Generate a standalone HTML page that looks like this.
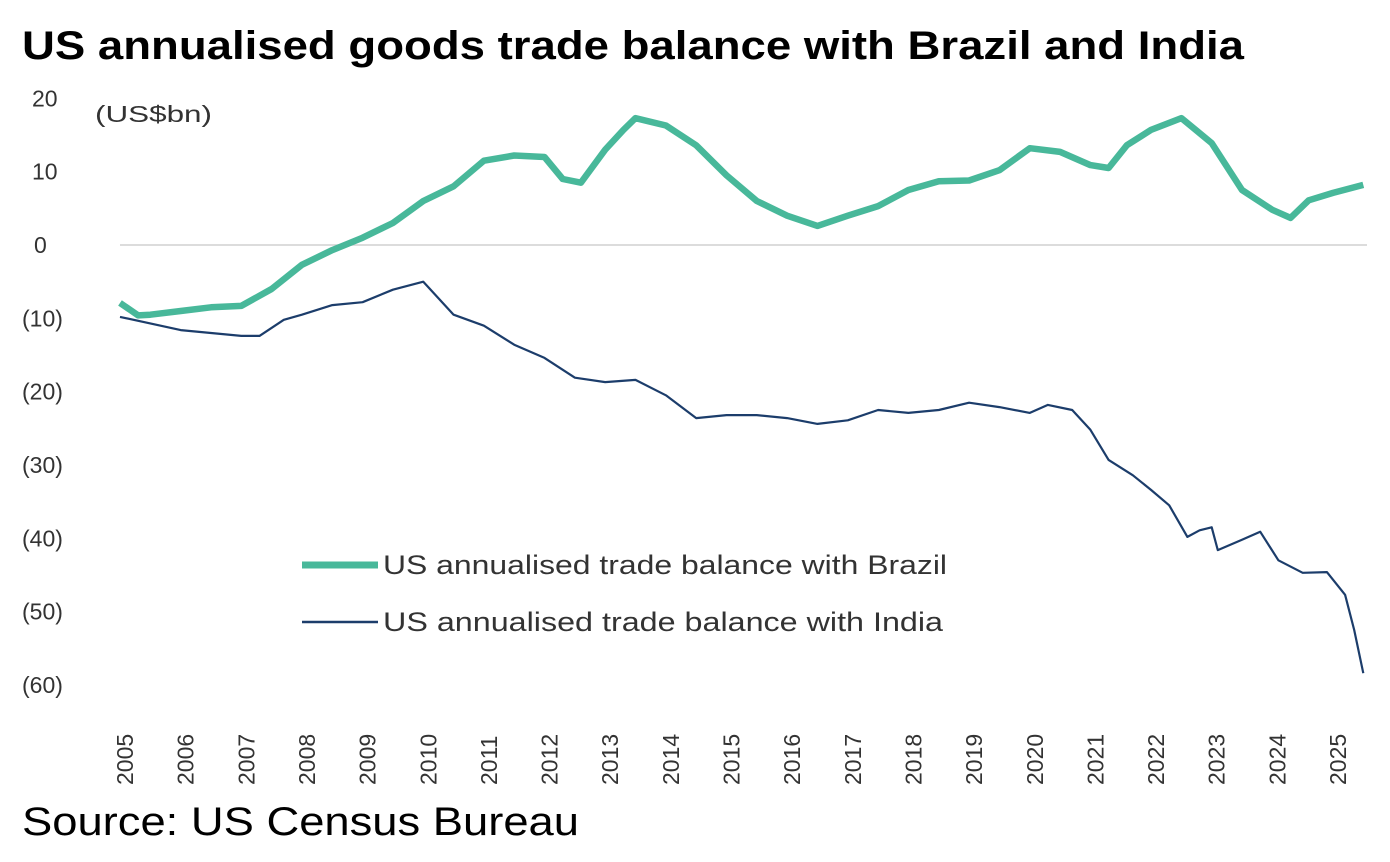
<!DOCTYPE html>
<html><head><meta charset="utf-8"><style>
body{margin:0;background:#fff;width:1390px;height:857px;overflow:hidden;font-family:"Liberation Sans",sans-serif}
</style></head><body>
<svg id="c" width="1390" height="857" xmlns="http://www.w3.org/2000/svg">
<text x="22" y="59" font-size="40" font-weight="bold" fill="#000" textLength="1222" lengthAdjust="spacingAndGlyphs">US annualised goods trade balance with Brazil and India</text>
<text x="95" y="122" font-size="23" fill="#333" textLength="117" lengthAdjust="spacingAndGlyphs">(US$bn)</text>
<text x="22" y="835" font-size="40" fill="#000" textLength="557" lengthAdjust="spacingAndGlyphs">Source: US Census Bureau</text>
<g id="yt"></g><g id="xt"></g><g id="lines"></g>
<line x1="302" y1="565" x2="378" y2="565" stroke="#48b89a" stroke-width="7"/>
<text x="383" y="574" font-size="27" fill="#333" textLength="564" lengthAdjust="spacingAndGlyphs">US annualised trade balance with Brazil</text>
<line x1="302" y1="622" x2="378" y2="622" stroke="#1c3d6b" stroke-width="2.5"/>
<text x="383" y="631" font-size="27" fill="#333" textLength="560" lengthAdjust="spacingAndGlyphs">US annualised trade balance with India</text>
</svg>
<script>
const yTicks=[20,10,0,-10,-20,-30,-40,-50,-60];
const yTickLabels=["20","10","0","(10)","(20)","(30)","(40)","(50)","(60)"];
const xYears=[2005,2006,2007,2008,2009,2010,2011,2012,2013,2014,2015,2016,2017,2018,2019,2020,2021,2022,2023,2024,2025];
const brazilT=[2005.0,2005.3,2005.5,2006.0,2006.5,2007.0,2007.5,2008.0,2008.5,2009.0,2009.5,2010.0,2010.5,2011.0,2011.5,2012.0,2012.3,2012.6,2013.0,2013.3,2013.5,2014.0,2014.5,2015.0,2015.5,2016.0,2016.5,2017.0,2017.5,2018.0,2018.5,2019.0,2019.5,2020.0,2020.5,2021.0,2021.3,2021.6,2022.0,2022.5,2023.0,2023.5,2024.0,2024.3,2024.6,2025.0,2025.5];
const brazilV=[-7.9,-9.6,-9.5,-9,-8.5,-8.3,-6,-2.7,-0.7,1,3,6,8,11.5,12.2,12,9,8.5,13,15.7,17.3,16.3,13.6,9.5,6,4,2.6,4,5.3,7.5,8.7,8.8,10.2,13.2,12.7,10.9,10.5,13.6,15.7,17.3,13.9,7.5,4.8,3.7,6.1,7.1,8.2];
const indiaT=[2005.0,2006.0,2007.0,2007.3,2007.7,2008.0,2008.5,2009.0,2009.5,2010.0,2010.5,2011.0,2011.5,2012.0,2012.5,2013.0,2013.5,2014.0,2014.5,2015.0,2015.5,2016.0,2016.5,2017.0,2017.5,2018.0,2018.5,2019.0,2019.5,2020.0,2020.3,2020.7,2021.0,2021.3,2021.7,2022.0,2022.3,2022.6,2022.8,2023.0,2023.1,2023.5,2023.8,2024.1,2024.5,2024.9,2025.2,2025.35,2025.5];
const indiaV=[-9.8,-11.6,-12.4,-12.4,-10.2,-9.5,-8.2,-7.8,-6.1,-5,-9.5,-11,-13.6,-15.4,-18.1,-18.7,-18.4,-20.5,-23.6,-23.2,-23.2,-23.6,-24.4,-23.9,-22.5,-22.9,-22.5,-21.5,-22.1,-22.9,-21.8,-22.5,-25.2,-29.3,-31.4,-33.4,-35.5,-39.8,-38.9,-38.5,-41.6,-40.2,-39.1,-43,-44.7,-44.6,-47.7,-52.5,-58.4];
const NS='http://www.w3.org/2000/svg';
const y=v=>245-v*7.333;
const x=t=>120+(t-2005)*60.65;
const yt=document.getElementById('yt');
yTicks.forEach((v,i)=>{
 const t=document.createElementNS(NS,'text');
 t.setAttribute('x',yTickLabels[i].startsWith('(')?22:(v===0?34:32));
 t.setAttribute('y',y(v)+8);
 t.setAttribute('font-size','23');t.setAttribute('fill','#333');
 
 
 t.textContent=yTickLabels[i];yt.appendChild(t);
});
const g=document.createElementNS(NS,'line');
g.setAttribute('x1',120);g.setAttribute('x2',1367);g.setAttribute('y1',y(0));g.setAttribute('y2',y(0));
g.setAttribute('stroke','#d0d0d0');g.setAttribute('stroke-width','1.5');


yt.appendChild(g);
const xt=document.getElementById('xt');
xYears.forEach(yr=>{
 const t=document.createElementNS(NS,'text');
 const cx=x(yr)+5;
 t.setAttribute('transform','translate('+(cx+8)+',785) rotate(-90)');
 t.setAttribute('font-size','23');t.setAttribute('fill','#333');
 
 
 t.textContent=yr;xt.appendChild(t);
});
function draw(T,V,col,w,name){
 const p=document.createElementNS(NS,'polyline');
 p.setAttribute('points',T.map((t,i)=>x(t).toFixed(1)+','+y(V[i]).toFixed(1)).join(' '));
 p.setAttribute('fill','none');p.setAttribute('stroke',col);p.setAttribute('stroke-width',w);
 p.setAttribute('stroke-linejoin','round');
 
 
 document.getElementById('lines').appendChild(p);
}
draw(indiaT,indiaV,'#1c3d6b',2.2,'india-line');
draw(brazilT,brazilV,'#48b89a',6.5,'brazil-line');
</script>
</body></html>
